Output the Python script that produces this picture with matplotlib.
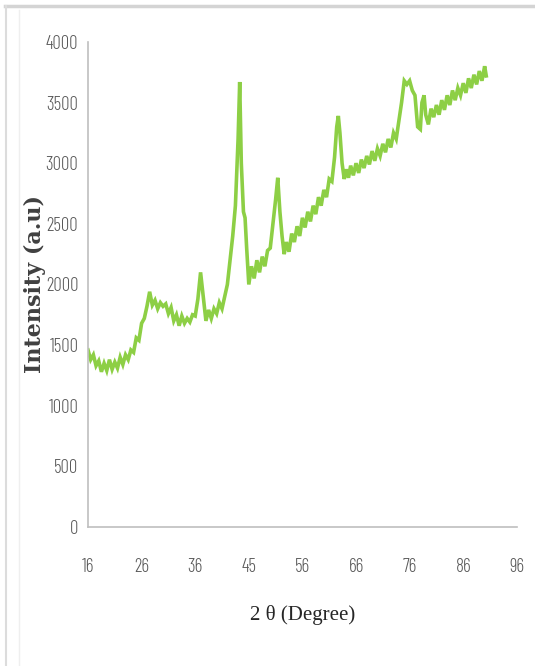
import matplotlib
matplotlib.use("Agg")
import matplotlib.pyplot as plt
from matplotlib.lines import Line2D

# XRD pattern: diffraction angle (2 theta, degrees) and intensity (a.u.)
two_theta = [
    16.0, 16.5, 17.0, 17.5, 18.0, 18.5, 19.0, 19.5, 20.0, 20.5,
    21.0, 21.5, 22.0, 22.5, 23.0, 23.5, 24.0, 24.5, 25.0, 25.5,
    26.0, 26.5, 27.0, 27.5, 28.0, 28.5, 29.0, 29.5, 30.0, 30.5,
    31.0, 31.5, 32.0, 32.5, 33.0, 33.5, 34.0, 34.5, 35.0, 35.5,
    36.0, 36.5, 37.0, 37.5, 38.0, 38.5, 39.0, 39.5, 40.0, 40.5,
    41.0, 41.5, 42.0, 42.5, 43.0, 43.5, 44.0, 44.3, 44.6, 45.0,
    45.3, 45.6, 46.0, 46.5, 47.0, 47.5, 48.0, 48.5, 49.0, 49.5,
    50.0, 50.5, 51.0, 51.4, 51.8, 52.2, 52.6, 53.0, 53.5, 54.0,
    54.5, 55.0, 55.5, 56.0, 56.5, 57.0, 57.5, 58.0, 58.5, 59.0,
    59.5, 60.0, 60.5, 61.0, 61.5, 62.0, 62.4, 62.7, 63.0, 63.4,
    63.8, 64.2, 64.6, 65.0, 65.5, 66.0, 66.5, 67.0, 67.5, 68.0,
    68.5, 69.0, 69.5, 70.0, 70.5, 71.0, 71.5, 72.0, 72.5, 73.0,
    73.5, 74.0, 74.5, 75.0, 75.5, 76.0, 76.5, 77.0, 77.5, 78.0,
    78.3, 78.7, 79.0, 79.5, 80.0, 80.5, 81.0, 81.5, 82.0, 82.5,
    83.0, 83.5, 84.0, 84.5, 85.0, 85.5, 86.0, 86.5, 87.0, 87.5,
    88.0, 88.5, 89.0, 89.5, 90.0, 90.3,
]
intensity = [
    1460, 1380, 1420, 1330, 1370, 1280, 1350, 1290, 1380, 1300,
    1360, 1310, 1400, 1340, 1420, 1380, 1460, 1440, 1560, 1540,
    1680, 1720, 1820, 1940, 1830, 1870, 1800, 1850, 1820, 1840,
    1760, 1810, 1700, 1750, 1660, 1740, 1680, 1720, 1690, 1750,
    1740, 1880, 2100, 1900, 1700, 1790, 1720, 1800, 1760, 1850,
    1800, 1900, 2000, 2200, 2400, 2650, 3200, 3670, 3000, 2600,
    2550, 2300, 2000, 2150, 2050, 2200, 2100, 2230, 2150, 2280,
    2300, 2500, 2700, 2880, 2600, 2400, 2250, 2350, 2270, 2420,
    2350, 2480, 2400, 2550, 2470, 2600, 2520, 2650, 2580, 2720,
    2650, 2780, 2720, 2870, 2850, 3050, 3300, 3390, 3250, 3000,
    2870, 2950, 2880, 2980, 2900, 3000, 2920, 3030, 2960, 3060,
    2990, 3100, 3020, 3120, 3060, 3160, 3090, 3200, 3130, 3250,
    3200, 3350, 3500, 3680, 3650, 3680, 3600, 3560, 3300, 3280,
    3500, 3560, 3400, 3320, 3450, 3380, 3480, 3400, 3520, 3440,
    3560, 3480, 3600, 3520, 3620, 3560, 3660, 3580, 3700, 3620,
    3730, 3650, 3760, 3680, 3800, 3720,
]

x_ticks = [16, 26, 36, 46, 56, 66, 76, 86, 96]
x_tick_labels = ["16", "26", "36", "45", "56", "66", "76", "86", "96"]
y_ticks = [0, 500, 1000, 1500, 2000, 2500, 3000, 3500, 4000]

tick_font = dict(family=["Barlow Condensed", "DejaVu Sans"], fontsize=13.5,
                 fontweight=300, color="#595959")

fig = plt.figure(figsize=(5.35, 6.66), dpi=100)
ax = fig.add_axes([0.1645, 0.2087, 0.8015, 0.7283])

ax.plot(two_theta, intensity, color="#8dcf45", linewidth=2.6, solid_joinstyle="miter")

ax.set_xlim(16, 96)
ax.set_ylim(0, 4000)
ax.set_xticks(x_ticks, x_tick_labels, **tick_font)
ax.set_yticks(y_ticks, [str(v) for v in y_ticks], **tick_font)

for side in ("top", "right"):
    ax.spines[side].set_visible(False)
for side in ("left", "bottom"):
    ax.spines[side].set_color("#bfbfbf")
    ax.spines[side].set_linewidth(1.2)

ax.tick_params(axis="both", length=0)
ax.tick_params(axis="x", pad=22)
ax.tick_params(axis="y", pad=7)

ax.set_xlabel("2 θ (Degree)", family=["Liberation Serif", "DejaVu Serif"],
              fontsize=15, color="#262626")
ax.xaxis.set_label_coords(0.5, -0.181)
ax.xaxis.label.set_va("center")

ax.set_ylabel("Intensity (a.u)", family=["DejaVu Serif"], fontweight="bold",
              fontsize=16, color="#404040")
ax.yaxis.set_label_coords(-0.1235, 0.5)
ax.yaxis.label.set_va("center")

# thin frame of the surrounding panel
fig.add_artist(Line2D([0.009, 1.0], [0.991, 0.991], transform=fig.transFigure,
                      color="#d4d4d4", linewidth=2.5))
fig.add_artist(Line2D([0.011, 0.011], [0.0, 0.991], transform=fig.transFigure,
                      color="#dcdcdc", linewidth=1.5))
fig.add_artist(Line2D([0.035, 0.035], [0.0, 0.985], transform=fig.transFigure,
                      color="#efefef", linewidth=1.0))

fig.savefig("out.png", dpi=100)
